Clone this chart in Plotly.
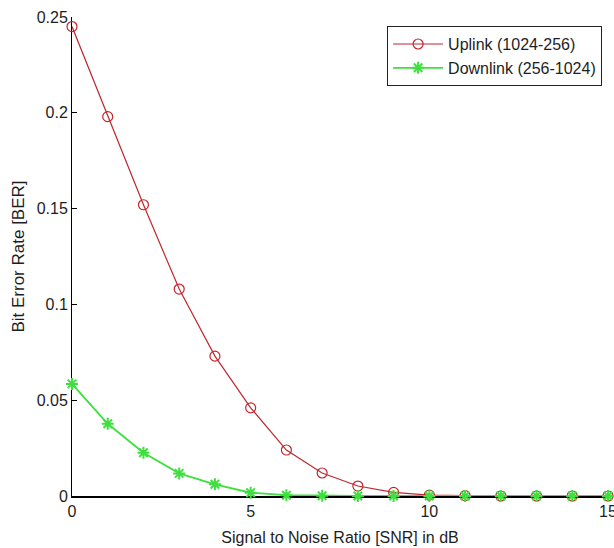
import plotly.graph_objects as go

snr = list(range(16))
uplink = [0.245, 0.198, 0.152, 0.108, 0.073, 0.046, 0.024, 0.012, 0.0052, 0.0019,
          0.0005, 0.0002, 0.0, 0.0, 0.0, 0.0]
downlink = [0.0585, 0.0377, 0.0226, 0.0118, 0.0061, 0.0017, 0.0004, 0.0001, 0.0, 0.0,
            0.0, 0.0, 0.0, 0.0, 0.0, 0.0]

x_ticks = [0, 5, 10, 15]
y_ticks = [0, 0.05, 0.1, 0.15, 0.2, 0.25]
y_tick_labels = ["0", "0.05", "0.1", "0.15", "0.2", "0.25"]

RED = "#c0272d"
GREEN = "#3ee03e"
FONT = "Liberation Sans, Arial, sans-serif"
TXT = "#1e1e1e"

fig = go.Figure()
fig.add_trace(go.Scatter(
    x=snr, y=uplink, name="Uplink (1024-256)", mode="lines+markers",
    line=dict(color=RED, width=1.2),
    marker=dict(symbol="circle-open", size=10, color=RED, line=dict(width=1.2, color=RED)),
    cliponaxis=False,
))
fig.add_trace(go.Scatter(
    x=snr, y=downlink, name="Downlink (256-1024)", mode="lines+markers",
    line=dict(color=GREEN, width=1.8),
    marker=dict(symbol="asterisk-open", size=10, color=GREEN, line=dict(width=2, color=GREEN)),
    cliponaxis=False,
))

fig.update_layout(
    width=614, height=548,
    margin=dict(l=72, r=6, t=17, b=52, autoexpand=False),
    paper_bgcolor="white", plot_bgcolor="white",
    font=dict(family=FONT, size=16, color=TXT),
    showlegend=True,
    legend=dict(
        x=0.989, y=0.981, xanchor="right", yanchor="top",
        bgcolor="white", bordercolor="#222", borderwidth=1,
        font=dict(family=FONT, size=16, color=TXT),
        tracegroupgap=0, itemwidth=50,
    ),
)
fig.update_xaxes(
    range=[0, 15], tickvals=x_ticks, ticktext=[str(v) for v in x_ticks],
    showgrid=False, zeroline=False, showline=True, linecolor="black", linewidth=2,
    ticks="inside", ticklen=5, tickcolor="black", layer="below traces",
    automargin=False, ticklabeloverflow="allow",
    title=dict(text="Signal to Noise Ratio [SNR] in dB", standoff=13,
               font=dict(family=FONT, size=16, color=TXT)),
    tickfont=dict(family=FONT, size=16, color=TXT),
)
fig.update_yaxes(
    range=[0, 0.25], tickvals=y_ticks, ticktext=y_tick_labels,
    showgrid=False, zeroline=False, showline=True, linecolor="black", linewidth=1,
    ticks="inside", ticklen=5, tickcolor="black", layer="below traces",
    automargin=False, ticklabeloverflow="allow",
    title=dict(text="Bit Error Rate [BER]", standoff=7,
               font=dict(family=FONT, size=17, color=TXT)),
    tickfont=dict(family=FONT, size=16, color=TXT),
)

fig.write_html(
    "out.html",
    config={"displayModeBar": False},
    post_script="document.body.style.margin='0';document.body.style.overflow='hidden';",
)
